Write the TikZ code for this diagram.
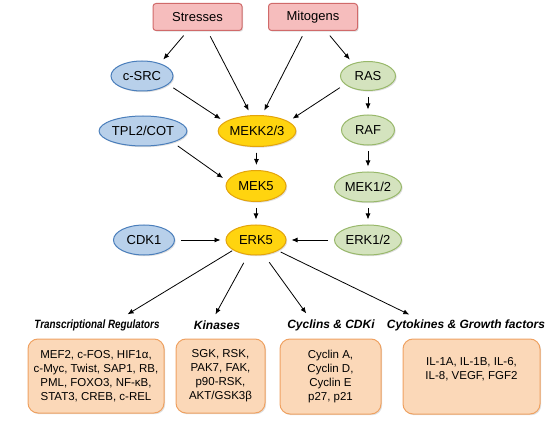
\documentclass[tikz,border=0pt]{standalone}
\usepackage{fontspec}
\setmainfont{Liberation Sans}
\usetikzlibrary{arrows.meta, positioning, shapes, shadows}

\definecolor{pinkfill}{HTML}{F6BDBD}
\definecolor{pinkdraw}{HTML}{D06A6A}
\definecolor{bluefill}{HTML}{B8D0EA}
\definecolor{bluedraw}{HTML}{4A7EBB}
\definecolor{yelfill}{HTML}{FFD40F}
\definecolor{yeldraw}{HTML}{E3A40C}
\definecolor{grnfill}{HTML}{D4E3BE}
\definecolor{grndraw}{HTML}{98B86A}
\definecolor{orgfill}{HTML}{FBD8B8}
\definecolor{orgdraw}{HTML}{EFA262}

\begin{document}
\begin{tikzpicture}[x=1pt, y=-1pt,
    softshadow/.style={drop shadow={opacity=0.25, shadow xshift=1.2pt, shadow yshift=-1.2pt}},
    signal/.style={rectangle, rounded corners=3pt, draw=pinkdraw, fill=pinkfill, softshadow,
        line width=1pt, minimum width=89pt, minimum height=27pt,
        font=\fontsize{13}{15}\selectfont},
    kin/.style={ellipse, inner sep=0pt, minimum height=30pt, softshadow, line width=1pt,
        font=\fontsize{13}{15}\selectfont},
    upblue/.style={kin, draw=bluedraw, fill=bluefill},
    core/.style={kin, draw=yeldraw, fill=yelfill},
    mapk/.style={kin, draw=grndraw, fill=grnfill},
    head/.style={font=\fontsize{12}{14}\selectfont\bfseries\itshape},
    target/.style={rectangle, rounded corners=10pt, draw=orgdraw, fill=orgfill, softshadow,
        line width=1pt, minimum height=74pt, align=center,
        font=\fontsize{11.5}{14}\selectfont},
    arr/.style={-{Latex[length=6pt, width=5pt]}, line width=0.8pt,
        shorten <=6pt, shorten >=5pt}]
\useasboundingbox (0,0) rectangle (550,428);

% stimuli
\node[signal] (stress) at (197.5,17) {Stresses};
\node[signal] (mito) at (313,17) {Mitogens};

% upstream kinases
\node[upblue, minimum width=62pt] (csrc) at (142,76) {c-SRC};
\node[upblue, minimum width=82pt] (tpl) at (143,131) {TPL2/COT};
\node[upblue, minimum width=61pt] (cdk) at (144,240) {CDK1};

% ERK5 module
\node[core, minimum width=77pt, minimum height=31pt] (mekk) at (257,131) {MEKK2/3};
\node[core, minimum width=60pt, minimum height=31pt] (mek5) at (256,186) {MEK5};
\node[core, minimum width=60pt] (erk5) at (256,240) {ERK5};

% classical MAPK module
\node[mapk, minimum width=55pt, minimum height=29pt] (ras) at (368,76) {RAS};
\node[mapk, minimum width=53pt] (raf) at (368,130) {RAF};
\node[mapk, minimum width=67pt] (mek12) at (368,187) {MEK1/2};
\node[mapk, minimum width=67pt] (erk12) at (368,240) {ERK1/2};

% targets
\node[head] (trh) at (97,325) {\scalebox{0.82}[1]{Transcriptional Regulators}};
\node[head] (kih) at (217,325) {Kinases};
\node[head] (cyh) at (331,325) {Cyclins \& CDKi};
\node[head] (cth) at (466,325) {Cytokines \& Growth factors};

\node[target, minimum width=136pt] (trbox) at (96,376)
    {MEF2, c-FOS, HIF1α,\\c-Myc, Twist, SAP1, RB,\\PML, FOXO3, NF-κB,\\STAT3, CREB, c-REL};
\node[target, minimum width=89pt] (kibox) at (220.5,376)
    {SGK, RSK,\\PAK7, FAK,\\p90-RSK,\\AKT/GSK3β};
\node[target, minimum width=101pt, minimum height=75pt] (cybox) at (330.5,376.5)
    {Cyclin A,\\Cyclin D,\\Cyclin E\\p27, p21};
\node[target, minimum width=137pt, minimum height=75pt] (ctbox) at (471.5,376.5)
    {IL-1A, IL-1B, IL-6,\\IL-8, VEGF, FGF2\\[2pt]~};

% connections
\draw[arr] ([xshift=-10pt]stress.south) -- (csrc.35);
\draw[arr] ([xshift=10pt]stress.south) -- ([xshift=-6pt]mekk.north);
\draw[arr] ([xshift=-8pt]mito.south) -- ([xshift=5pt]mekk.north);
\draw[arr] ([xshift=13pt]mito.south) -- (ras.140);
\draw[arr] (csrc.-18) -- (mekk.164);
\draw[arr] (ras.200) -- (mekk.17);
\draw[arr] (tpl.-21) -- (mek5.170);
\draw[arr] (mekk) -- (mek5);
\draw[arr] (mek5) -- (erk5);
\draw[arr] (ras) -- (raf);
\draw[arr] (raf) -- (mek12);
\draw[arr] (mek12) -- (erk12);
\draw[arr] (cdk) -- (erk5);
\draw[arr] (erk12) -- (erk5);
\draw[arr, shorten <=1pt, shorten >=3pt] (erk5.204) -- ([xshift=28pt]trh.north);
\draw[arr, shorten <=9pt, shorten >=3pt] (erk5.-118) -- ([xshift=-3pt]kih.north);
\draw[arr, shorten <=9pt, shorten >=3pt] (erk5.-62) -- ([xshift=-23pt]cyh.north);
\draw[arr, shorten <=3pt, shorten >=3pt] (erk5.-26) -- ([xshift=-54pt]cth.north);
\end{tikzpicture}
\end{document}
